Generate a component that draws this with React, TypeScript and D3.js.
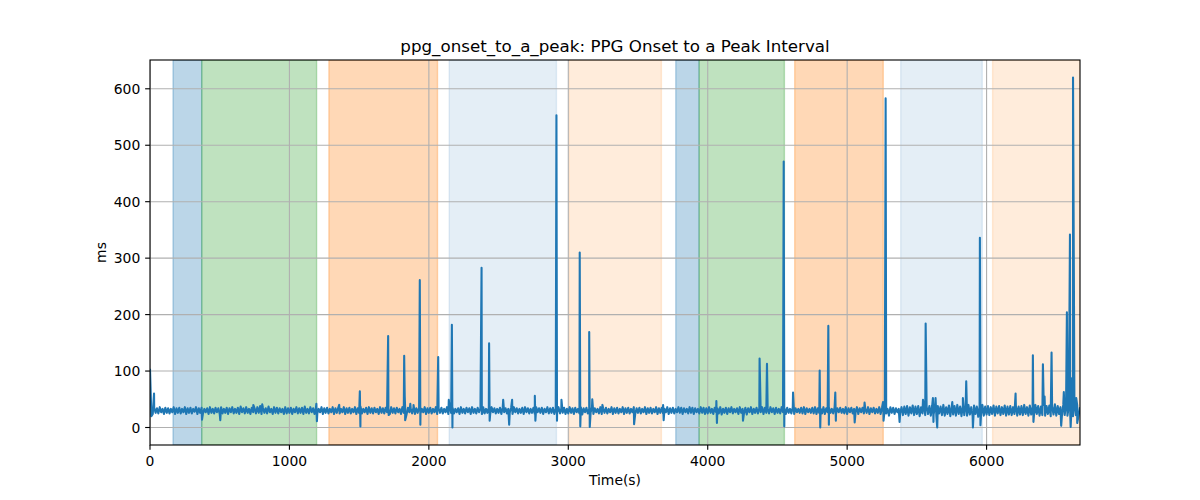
import React from "react";
import * as d3 from "d3";

// ---- DATA ----
const title = "ppg_onset_to_a_peak: PPG Onset to a Peak Interval";
const xLabel = "Time(s)";
const yLabel = "ms";
const xTicks = [0, 1000, 2000, 3000, 4000, 5000, 6000];
const yTicks = [0, 100, 200, 300, 400, 500, 600];

// baseline samples, one every 10 s starting at t = 0
const baselineStep = 10;
const baseline = [
  104,20,24,35,26,34,25,36,27,33,24,35,26,34,25,33,27,36,24,34,
  26,35,25,33,27,36,24,34,26,35,25,33,28,36,24,34,26,35,25,33,
  27,34,24,36,26,33,25,35,27,34,24,36,25,33,26,35,24,34,27,36,
  25,33,26,35,24,37,27,34,25,36,26,33,24,35,27,34,25,36,26,38,
  24,35,26,34,25,37,27,33,24,36,26,35,25,34,27,33,24,36,25,34,
  26,35,24,33,27,36,25,34,26,35,24,37,26,33,25,36,27,34,24,35,
  25,33,27,36,24,34,26,35,25,33,27,36,24,34,26,35,25,33,27,36,
  24,34,26,35,25,33,27,36,24,34,26,37,25,33,27,35,24,36,26,34,
  25,35,27,33,24,36,26,34,25,35,27,33,24,36,26,34,25,35,27,33,
  24,36,26,34,23,35,27,33,25,36,24,34,26,35,25,33,27,36,24,34,
  26,35,25,33,27,36,24,34,26,35,25,33,27,36,24,34,26,35,25,33,
  27,34,24,36,26,33,25,35,27,34,24,36,26,33,25,35,27,34,24,36,
  25,33,26,35,24,36,27,34,25,33,26,35,24,36,27,34,25,33,26,35,
  24,36,27,34,25,33,26,35,24,36,27,34,25,33,26,35,24,36,27,34,
  26,35,24,33,27,36,25,34,26,35,24,33,27,36,25,34,26,35,24,33,
  25,36,26,34,24,35,27,33,25,36,23,34,27,35,25,33,26,36,24,34,
  27,33,25,36,24,34,26,35,25,33,27,36,24,34,26,35,25,33,27,36,
  24,34,26,35,25,33,27,36,24,34,26,35,25,33,27,36,24,34,26,35,
  25,33,27,36,24,34,26,35,25,33,27,36,24,34,26,35,25,33,27,36,
  26,35,24,34,27,33,25,36,26,35,24,34,27,33,25,36,26,35,24,34,
  25,36,26,33,24,35,27,34,25,36,23,33,26,35,24,34,27,36,25,33,
  27,34,24,36,26,33,25,35,23,34,27,36,24,33,26,35,25,34,27,36,
  24,35,26,33,25,36,27,34,24,35,26,33,25,36,27,34,24,35,26,33,
  25,36,24,34,27,33,26,35,25,36,24,34,27,33,26,35,25,36,24,34,
  26,33,25,36,24,34,27,35,26,33,25,36,24,34,27,35,26,33,25,36,
  24,34,27,35,25,33,26,36,24,34,27,35,25,33,26,36,24,34,27,35,
  25,33,26,36,24,35,27,34,25,33,21,36,26,35,24,34,27,33,25,36,
  22,37,24,38,21,36,25,39,22,37,24,38,20,36,25,39,22,37,24,38,
  21,39,23,36,20,38,25,37,22,40,21,36,24,39,20,37,23,38,21,40,
  24,37,20,39,22,38,21,40,23,36,20,39,24,37,19,38,22,40,21,37,
  23,38,22,36,24,39,21,37,25,38,22,36,24,39,21,37,23,38,22,36,
  24,39,21,37,23,38,22,40,24,36,21,39,23,37,22,40,24,38,21,37,
  22,40,21,38,24,39,20,37,23,41,21,38,24,36,20,40,22,39,21,38,
  23,40,20,38,22,39,21,36,
];

// spikes and dips: [time (s), value (ms)]
const spikes: [number, number][] = [
  [29, 60], [373, 14], [504, 13], [741, 40], [805, 41],
  [1193, 42], [1197, 11], [1357, 40], [1505, 64], [1509, 2],
  [1708, 162], [1712, 22], [1823, 127], [1827, 55], [1830, 13],
  [1867, 42], [1890, 40], [1935, 261], [1939, 5], [2067, 125],
  [2143, 49], [2165, 182], [2169, 0], [2378, 283], [2382, 24],
  [2432, 149], [2436, 12], [2533, 49], [2576, 5], [2597, 49],
  [2760, 56], [2764, 12], [2915, 553], [2919, 12], [2951, 49],
  [3082, 310], [3086, 2], [3150, 169], [3154, 1], [3172, 50],
  [3245, 40], [3472, 6], [3680, 40], [3684, 13], [4062, 47],
  [4066, 8], [4253, 12], [4372, 122], [4425, 113], [4545, 471],
  [4549, 2], [4612, 62], [4803, 101], [4807, 0], [4865, 180],
  [4869, 5], [4915, 62], [4919, 12], [5054, 9], [5125, 44],
  [5257, 45], [5261, 12], [5276, 583], [5376, 10], [5544, 49],
  [5563, 184], [5615, 52], [5619, 10], [5634, 52], [5646, 0],
  [5754, 45], [5830, 52], [5854, 82], [5902, 0], [5952, 336],
  [5956, 4], [6208, 60], [6332, 128], [6336, 10], [6404, 112],
  [6416, 55], [6466, 133], [6535, 3], [6554, 63], [6576, 204],
  [6598, 342], [6603, 1], [6612, 87], [6620, 620], [6643, 52],
  [6650, 8],
];

// shaded activity intervals
const spanStart = [165, 371, 1283, 2146, 3004, 3771, 3938, 4624, 5384, 6043];
const spanEnd = [371, 1195, 2062, 2915, 3668, 3938, 4550, 5259, 5969, 6670];
const spanColor = ["#1f77b4", "#2ca02c", "#ff7f0e", "#1f77b4", "#ff7f0e", "#1f77b4", "#2ca02c", "#ff7f0e", "#1f77b4", "#ff7f0e"];
const spanAlpha = [0.3, 0.3, 0.3, 0.12, 0.15, 0.3, 0.3, 0.3, 0.12, 0.15];

// ---- LAYOUT ----
const W = 1200, H = 500;
const L = 150, R = 1080, T = 60, B = 445;
const PT = 100 / 72;
const FONT = "DejaVu Sans, sans-serif";

export default function App() {
  const points: [number, number][] = baseline
    .map((v, i) => [i * baselineStep, v] as [number, number])
    .concat(spikes)
    .sort((a, b) => a[0] - b[0]);

  const xMax = (baseline.length - 1) * baselineStep;
  const yMin = d3.min(points, (d) => d[1]) as number;
  const yMax = d3.max(points, (d) => d[1]) as number;
  const pad = (yMax - yMin) * 0.05;

  const x = d3.scaleLinear().domain([0, xMax]).range([L, R]);
  const y = d3.scaleLinear().domain([yMin - pad, yMax + pad]).range([B, T]);

  const line = d3
    .line<[number, number]>()
    .x((d) => x(d[0]))
    .y((d) => y(d[1]));

  const tickLen = 3.5 * PT;
  const tickPad = 3.5 * PT;

  return (
    <svg
      width={W}
      height={H}
      style={{ position: "absolute", left: 0, top: 0, background: "#fff" }}
      fontFamily={FONT}
    >
      <defs>
        <clipPath id="plot">
          <rect x={L} y={T} width={R - L} height={B - T} />
        </clipPath>
      </defs>
      <rect x={0} y={0} width={W} height={H} fill="#fff" />
      <g clipPath="url(#plot)">
        {spanStart.map((s, i) => (
          <rect
            key={i}
            x={x(s)}
            y={T}
            width={x(spanEnd[i]) - x(s)}
            height={B - T}
            fill={spanColor[i]}
            fillOpacity={spanAlpha[i]}
            stroke={spanColor[i]}
            strokeOpacity={spanAlpha[i]}
            strokeWidth={1 * PT}
          />
        ))}
        {xTicks.map((t) => (
          <line key={"gx" + t} x1={x(t)} x2={x(t)} y1={T} y2={B} stroke="#b0b0b0" strokeWidth={0.8 * PT} />
        ))}
        {yTicks.map((t) => (
          <line key={"gy" + t} x1={L} x2={R} y1={y(t)} y2={y(t)} stroke="#b0b0b0" strokeWidth={0.8 * PT} />
        ))}
        <path
          d={line(points) || ""}
          fill="none"
          stroke="#1f77b4"
          strokeWidth={1.5 * PT}
          strokeLinejoin="round"
        />
      </g>
      {/* spines */}
      <rect x={L} y={T} width={R - L} height={B - T} fill="none" stroke="#000" strokeWidth={0.8 * PT} />
      {/* x ticks */}
      {xTicks.map((t) => (
        <g key={"tx" + t}>
          <line x1={x(t)} x2={x(t)} y1={B} y2={B + tickLen} stroke="#000" strokeWidth={0.8 * PT} />
          <text x={x(t)} y={465.5} textAnchor="middle" fontSize={13.9} fill="#000">
            {t}
          </text>
        </g>
      ))}
      {/* y ticks */}
      {yTicks.map((t) => (
        <g key={"ty" + t}>
          <line x1={L - tickLen} x2={L} y1={y(t)} y2={y(t)} stroke="#000" strokeWidth={0.8 * PT} />
          <text x={L - tickLen - tickPad} y={y(t) + 5} textAnchor="end" fontSize={13.9} fill="#000">
            {t}
          </text>
        </g>
      ))}
      <text x={(L + R) / 2} y={485} textAnchor="middle" fontSize={13.9} fill="#000">
        {xLabel}
      </text>
      <text
        transform={`translate(106, ${(T + B) / 2}) rotate(-90)`}
        textAnchor="middle"
        fontSize={13.9}
        fill="#000"
      >
        {yLabel}
      </text>
      <text x={(L + R) / 2} y={52} textAnchor="middle" fontSize={16.7} fill="#000">
        {title}
      </text>
    </svg>
  );
}
